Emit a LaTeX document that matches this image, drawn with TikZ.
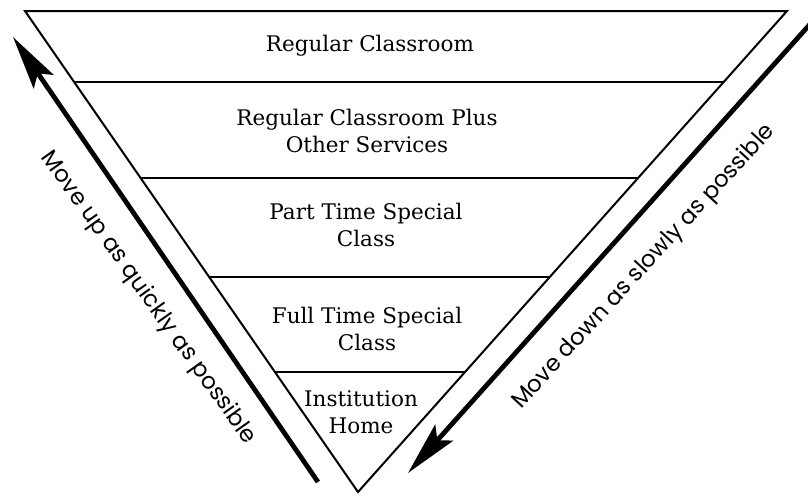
\documentclass[tikz,border=0pt]{standalone}
\usepackage{fontspec}
\setmainfont{DejaVu Serif}
\newfontfamily\labelfont{Poppins}
\usetikzlibrary{arrows.meta}
\begin{document}
\begin{tikzpicture}[x=1pt,y=-1pt,
  edge/.style={line width=2pt,line join=miter},
  tier/.style={align=center,inner sep=0pt,font=\fontsize{21.5}{27}\selectfont},
  flow/.style={line width=4.8pt,-{Stealth[length=54pt,width=24pt,inset=10pt]}},
  flowlabel/.style={inner sep=0pt,font=\labelfont\fontsize{23}{25}\selectfont}]
  \useasboundingbox (0,0) rectangle (808,496);
  % corners of the inverted triangle
  \coordinate (tl) at (25,11);
  \coordinate (tr) at (787,11);
  \coordinate (apex) at (358,492);
  % dividing lines between the tiers
  \coordinate (l1) at (75,82);   \coordinate (r1) at (723,82);
  \coordinate (l2) at (141,178); \coordinate (r2) at (638,178);
  \coordinate (l3) at (209,277); \coordinate (r3) at (550,277);
  \coordinate (l4) at (275,372); \coordinate (r4) at (465,372);
  \draw[edge] (tl) -- (tr) -- (apex) -- cycle;
  \draw[edge] (l1) -- (r1);
  \draw[edge] (l2) -- (r2);
  \draw[edge] (l3) -- (r3);
  \draw[edge] (l4) -- (r4);
  % tier labels
  \node[tier] (t1) at (370,46) {Regular Classroom};
  \node[tier] (t2) at (367,131) {Regular Classroom Plus\\Other Services};
  \node[tier] (t3) at (366,225) {Part Time Special\\Class};
  \node[tier] (t4) at (367,329) {Full Time Special\\Class};
  \node[tier] (t5) at (361,412) {Institution\\Home};
  % side arrows
  \coordinate (upstart) at (318,482);
  \coordinate (upend) at (13,37);
  \coordinate (downstart) at (812,22);
  \coordinate (downend) at (408,473);
  \draw[flow] (upstart) -- (upend);
  \draw[flow] (downstart) -- (downend);
  \node[flowlabel,rotate=-54.5] (uplabel) at (148,298) {Move up as quickly as possible};
  \node[flowlabel,rotate=47.5] (downlabel) at (644,267) {Move down as slowly as possible};
\end{tikzpicture}
\end{document}
